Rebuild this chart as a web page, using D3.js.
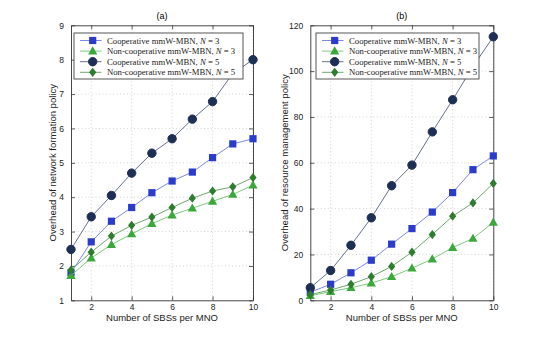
<!DOCTYPE html>
<html>
<head>
<meta charset="utf-8">
<script src="https://cdn.jsdelivr.net/npm/d3@7"></script>
<style>
  html, body { margin: 0; padding: 0; background: #fff; }
  svg { display: block; }
  .tick text { font-family: "Liberation Sans", Arial, sans-serif; font-size: 8.5px; fill: #222; }
  .legend text { font-family: "Liberation Serif", "Times New Roman", Times, serif; font-size: 8.7px; fill: #222; }
</style>
</head>
<body>
<div id="chart"></div>
<script>
// ---- data ----
const sbs = [1, 2, 3, 4, 5, 6, 7, 8, 9, 10];
const seriesNames = [
  'Cooperative mmW-MBN, N = 3',
  'Non-cooperative mmW-MBN, N = 3',
  'Cooperative mmW-MBN, N = 5',
  'Non-cooperative mmW-MBN, N = 5'
];

// (a) network formation overhead
const formCoopN3    = [1.80, 2.70, 3.30, 3.70, 4.13, 4.47, 4.73, 5.15, 5.55, 5.70];
const formNonCoopN3 = [1.72, 2.23, 2.62, 2.93, 3.23, 3.48, 3.68, 3.88, 4.08, 4.35];
const formCoopN5    = [2.48, 3.43, 4.05, 4.70, 5.28, 5.70, 6.27, 6.78, 7.60, 8.00];
const formNonCoopN5 = [1.88, 2.40, 2.87, 3.18, 3.42, 3.70, 3.97, 4.18, 4.30, 4.57];

// (b) resource management overhead
const resCoopN3    = [3.5, 7.0, 12.0, 17.5, 24.5, 31.3, 38.5, 47.0, 57.0, 63.0];
const resNonCoopN3 = [2.0, 3.8, 5.5, 7.5, 10.3, 14.0, 18.0, 23.0, 27.0, 34.0];
const resCoopN5    = [5.5, 13.0, 24.0, 36.0, 50.0, 59.0, 73.5, 87.5, 102.0, 115.0];
const resNonCoopN5 = [2.5, 4.5, 7.0, 10.3, 14.8, 21.0, 28.7, 36.7, 42.5, 51.0];

const xTicks = [2, 4, 6, 8, 10];
const yTicksA = [1, 2, 3, 4, 5, 6, 7, 8, 9];
const yTicksB = [0, 20, 40, 60, 80, 100, 120];

// ---- styles per series ----
const styles = [
  { marker: 'square',   fill: '#2b3ccc', line: '#7d88e6' },
  { marker: 'triangle', fill: '#3aa83a', line: '#7ccb7c' },
  { marker: 'circle',   fill: '#1e2f55', line: '#66718e' },
  { marker: 'diamond',  fill: '#2e7d2e', line: '#6fa86f' }
];

const W = 545, H = 338;
const svg = d3.select('#chart').append('svg')
  .attr('width', W).attr('height', H);

function drawMarker(g, type, x, y, fill) {
  if (type === 'circle') {
    g.append('circle').attr('cx', x).attr('cy', y).attr('r', 4.2)
      .attr('fill', fill).attr('stroke', fill);
  } else if (type === 'square') {
    g.append('rect').attr('x', x - 3.6).attr('y', y - 3.6)
      .attr('width', 7.2).attr('height', 7.2).attr('fill', fill);
  } else if (type === 'triangle') {
    g.append('path').attr('d', `M${x},${y - 4.8}L${x + 4.6},${y + 3.4}L${x - 4.6},${y + 3.4}Z`)
      .attr('fill', fill);
  } else {
    g.append('path').attr('d', `M${x},${y - 4.6}L${x + 3.6},${y}L${x},${y + 4.6}L${x - 3.6},${y}Z`)
      .attr('fill', fill);
  }
}

function panel(opts) {
  const { left, right, top, bottom, yDomain, yTicks, title, ylabel, labelOffset, data, legend } = opts;
  const x = d3.scaleLinear().domain([1, 10]).range([left, right]);
  const y = d3.scaleLinear().domain(yDomain).range([bottom, top]);
  const g = svg.append('g');

  // grid
  g.append('g').selectAll('line').data(xTicks).join('line')
    .attr('x1', d => x(d)).attr('x2', d => x(d))
    .attr('y1', top).attr('y2', bottom)
    .attr('stroke', '#c8c8c8').attr('stroke-width', 0.8)
    .attr('stroke-dasharray', '1,2.5');
  g.append('g').selectAll('line').data(yTicks.slice(1, -1)).join('line')
    .attr('x1', left).attr('x2', right)
    .attr('y1', d => y(d)).attr('y2', d => y(d))
    .attr('stroke', '#c8c8c8').attr('stroke-width', 0.8)
    .attr('stroke-dasharray', '1,2.5');

  // axes (ticks point inward, box on all sides)
  const axB = g.append('g').attr('transform', `translate(0,${bottom})`)
    .call(d3.axisBottom(x).tickValues(xTicks).tickSizeInner(-4).tickSizeOuter(0).tickPadding(4));
  const axL = g.append('g').attr('transform', `translate(${left},0)`)
    .call(d3.axisLeft(y).tickValues(yTicks).tickSizeInner(-4).tickSizeOuter(0).tickPadding(7));
  const axT = g.append('g').attr('transform', `translate(0,${top})`)
    .call(d3.axisTop(x).tickValues(xTicks).tickSizeInner(-4).tickSizeOuter(0).tickFormat(''));
  const axR = g.append('g').attr('transform', `translate(${right},0)`)
    .call(d3.axisRight(y).tickValues(yTicks).tickSizeInner(-4).tickSizeOuter(0).tickFormat(''));
  [axB, axL, axT, axR].forEach(a => {
    a.select('.domain').attr('stroke', '#333').attr('stroke-width', 0.9);
    a.selectAll('.tick line').attr('stroke', '#333').attr('stroke-width', 0.8);
  });

  // series
  const line = d3.line().x((d, i) => x(sbs[i])).y(d => y(d));
  data.forEach((vals, k) => {
    const st = styles[k];
    g.append('path').datum(vals).attr('d', line)
      .attr('fill', 'none').attr('stroke', st.line).attr('stroke-width', 1);
    const mg = g.append('g');
    vals.forEach((v, i) => drawMarker(mg, st.marker, x(sbs[i]), y(v), st.fill));
  });

  // title & labels
  g.append('text').attr('x', (left + right) / 2).attr('y', 19)
    .attr('text-anchor', 'middle')
    .style('font-family', '"Liberation Sans", Arial, sans-serif').style('font-size', '9px')
    .text(title);
  g.append('text').attr('x', (left + right) / 2).attr('y', bottom + 21)
    .attr('text-anchor', 'middle')
    .style('font-family', '"Liberation Sans", Arial, sans-serif').style('font-size', '9.5px')
    .attr('fill', '#222')
    .text('Number of SBSs per MNO');
  g.append('text')
    .attr('transform', `translate(${left - labelOffset},${(top + bottom) / 2}) rotate(-90)`)
    .attr('text-anchor', 'middle')
    .style('font-family', '"Liberation Sans", Arial, sans-serif').style('font-size', '9.5px')
    .attr('fill', '#222')
    .text(ylabel);

  // legend (drawn over the series)
  const lg = g.append('g').attr('class', 'legend');
  lg.append('rect').attr('x', legend.x).attr('y', legend.y)
    .attr('width', legend.w).attr('height', legend.h)
    .attr('fill', '#fff').attr('stroke', '#444').attr('stroke-width', 0.9);
  seriesNames.forEach((name, k) => {
    const st = styles[k];
    const ly = legend.y + 7.5 + k * 10.6;
    lg.append('line').attr('x1', legend.x + 6).attr('x2', legend.x + 27.5)
      .attr('y1', ly).attr('y2', ly).attr('stroke', st.line).attr('stroke-width', 1);
    drawMarker(lg, st.marker, legend.x + 18.7, ly, st.fill);
    const parts = name.split('N = ');
    const t = lg.append('text').attr('x', legend.x + 33).attr('y', ly + 3);
    t.append('tspan').text(parts[0]);
    t.append('tspan').style('font-style', 'italic').text('N');
    t.append('tspan').text(' = ' + parts[1]);
  });
}

panel({
  left: 71, right: 253, top: 25.3, bottom: 300.3,
  yDomain: [1, 9], yTicks: yTicksA, title: '(a)', labelOffset: 15,
  ylabel: 'Overhead of network formation policy',
  data: [formCoopN3, formNonCoopN3, formCoopN5, formNonCoopN5],
  legend: { x: 74, y: 33, w: 169, h: 46 }
});

panel({
  left: 310.3, right: 493.3, top: 25.3, bottom: 300.3,
  yDomain: [0, 120], yTicks: yTicksB, title: '(b)', labelOffset: 22,
  ylabel: 'Overhead of resource management policy',
  data: [resCoopN3, resNonCoopN3, resCoopN5, resNonCoopN5],
  legend: { x: 316, y: 33, w: 163, h: 46 }
});
</script>
</body>
</html>
